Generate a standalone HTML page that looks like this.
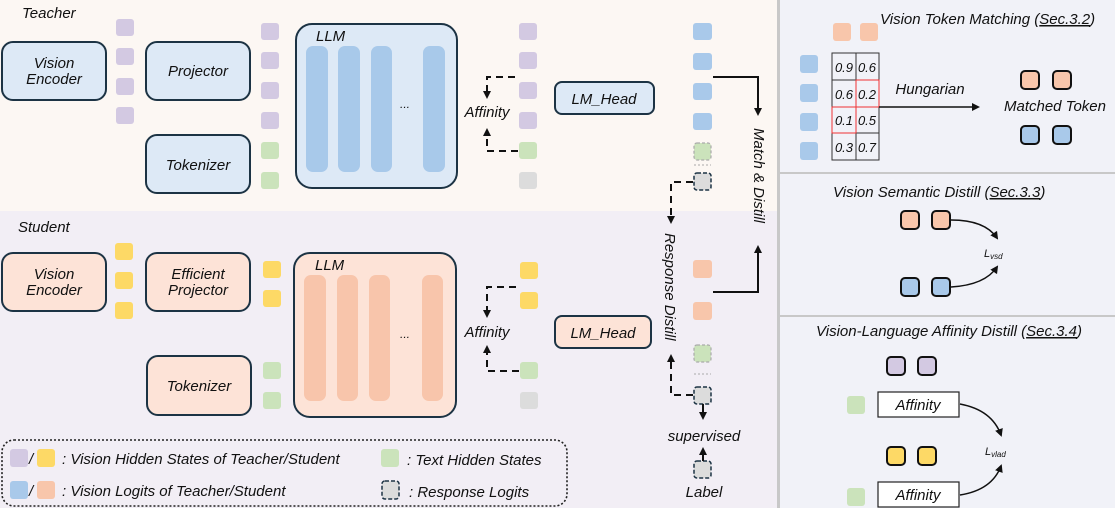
<!DOCTYPE html>
<html><head><meta charset="utf-8"><style>
html,body{margin:0;padding:0;background:#fff}
svg{display:block}
text{font-family:"Liberation Sans",sans-serif;font-style:italic;fill:#111}
</style></head><body>
<svg width="1115" height="508" viewBox="0 0 1115 508" xmlns="http://www.w3.org/2000/svg">
<defs>
<marker id="ah" markerWidth="8" markerHeight="8" refX="6" refY="4" orient="auto" markerUnits="userSpaceOnUse"><path d="M0,0 L8,4 L0,8 Z" fill="#111"/></marker>
</defs>
<!-- backgrounds -->
<rect x="0" y="0" width="777" height="211" fill="#fcf7f3"/>
<rect x="0" y="211" width="777" height="297" fill="#f2eef5"/>
<rect x="780" y="0" width="335" height="508" fill="#f1f2f8"/>
<rect x="777" y="0" width="3" height="508" fill="#c8c8c8"/>
<rect x="780" y="172" width="335" height="2" fill="#c8c8c8"/>
<rect x="780" y="315" width="335" height="2" fill="#c8c8c8"/>

<!-- TEACHER -->
<text x="22" y="18" font-size="15">Teacher</text>
<g stroke="#1c3344" stroke-width="2" fill="#dde9f6">
<rect x="2" y="42" width="104" height="58" rx="11"/>
<rect x="146" y="42" width="104" height="58" rx="11"/>
<rect x="146" y="135" width="104" height="58" rx="11"/>
<rect x="296" y="24" width="161" height="164" rx="16"/>
<rect x="555" y="82" width="99" height="32" rx="7"/>
</g>
<text x="54" y="68" font-size="15" text-anchor="middle">Vision</text>
<text x="54" y="84" font-size="15" text-anchor="middle">Encoder</text>
<text x="198" y="76" font-size="15" text-anchor="middle">Projector</text>
<text x="198" y="170" font-size="15" text-anchor="middle">Tokenizer</text>
<text x="316" y="41" font-size="15">LLM</text>
<text x="604" y="104" font-size="15" text-anchor="middle">LM_Head</text>
<g fill="#a8c9ea">
<rect x="306" y="46" width="22" height="126" rx="7"/>
<rect x="338" y="46" width="22" height="126" rx="7"/>
<rect x="371" y="46" width="21" height="126" rx="7"/>
<rect x="423" y="46" width="22" height="126" rx="7"/>
</g>
<text x="405" y="108" font-size="12" text-anchor="middle">...</text>
<g fill="#d3c9e2">
<rect x="116" y="19" width="18" height="17" rx="3"/><rect x="116" y="48" width="18" height="17" rx="3"/>
<rect x="116" y="78" width="18" height="17" rx="3"/><rect x="116" y="107" width="18" height="17" rx="3"/>
<rect x="261" y="23" width="18" height="17" rx="3"/><rect x="261" y="52" width="18" height="17" rx="3"/>
<rect x="261" y="82" width="18" height="17" rx="3"/><rect x="261" y="112" width="18" height="17" rx="3"/>
<rect x="519" y="23" width="18" height="17" rx="3"/><rect x="519" y="52" width="18" height="17" rx="3"/>
<rect x="519" y="82" width="18" height="17" rx="3"/><rect x="519" y="112" width="18" height="17" rx="3"/>
</g>
<g fill="#cbe3bb">
<rect x="261" y="142" width="18" height="17" rx="3"/><rect x="261" y="172" width="18" height="17" rx="3"/>
<rect x="519" y="142" width="18" height="17" rx="3"/>
</g>
<rect x="519" y="172" width="18" height="17" rx="3" fill="#dcdcdc"/>
<text x="487" y="117" font-size="15" text-anchor="middle">Affinity</text>
<g stroke="#111" stroke-width="2" fill="none" stroke-dasharray="7,5">
<path d="M515,77 H487 V97" marker-end="url(#ah)"/>
<path d="M518,151 H487 V130" marker-end="url(#ah)"/>
</g>
<!-- teacher logits -->
<g fill="#a9c9ea">
<rect x="693" y="23" width="19" height="17" rx="3"/><rect x="693" y="53" width="19" height="17" rx="3"/>
<rect x="693" y="83" width="19" height="17" rx="3"/><rect x="693" y="113" width="19" height="17" rx="3"/>
</g>
<rect x="694" y="143" width="17" height="17" rx="3" fill="#cbe3bb" stroke="#aaa" stroke-width="1.2" stroke-dasharray="3,2"/>
<line x1="694" y1="165" x2="711" y2="165" stroke="#aaa" stroke-width="1" stroke-dasharray="2,2"/>
<rect x="694" y="173" width="17" height="17" rx="3" fill="#dcdcdc" stroke="#1c3344" stroke-width="1.5" stroke-dasharray="4,2"/>
<path d="M713,77 H758 V114" stroke="#111" stroke-width="2" fill="none" marker-end="url(#ah)"/>
<text x="0" y="0" font-size="15" transform="translate(754,128) rotate(90)">Match &amp; Distill</text>
<path d="M693,182 H671 V222" stroke="#111" stroke-width="2" fill="none" stroke-dasharray="7,5" marker-end="url(#ah)"/>

<!-- STUDENT -->
<text x="18" y="232" font-size="15">Student</text>
<g stroke="#1c3344" stroke-width="2" fill="#fde3d7">
<rect x="2" y="253" width="104" height="58" rx="11"/>
<rect x="146" y="253" width="104" height="58" rx="11"/>
<rect x="147" y="356" width="104" height="59" rx="11"/>
<rect x="294" y="253" width="162" height="164" rx="16"/>
<rect x="555" y="316" width="96" height="32" rx="7"/>
</g>
<text x="54" y="279" font-size="15" text-anchor="middle">Vision</text>
<text x="54" y="295" font-size="15" text-anchor="middle">Encoder</text>
<text x="198" y="279" font-size="15" text-anchor="middle">Efficient</text>
<text x="198" y="295" font-size="15" text-anchor="middle">Projector</text>
<text x="199" y="391" font-size="15" text-anchor="middle">Tokenizer</text>
<text x="315" y="270" font-size="15">LLM</text>
<text x="603" y="338" font-size="15" text-anchor="middle">LM_Head</text>
<g fill="#f8c5ab">
<rect x="304" y="275" width="22" height="126" rx="7"/>
<rect x="337" y="275" width="21" height="126" rx="7"/>
<rect x="369" y="275" width="21" height="126" rx="7"/>
<rect x="422" y="275" width="21" height="126" rx="7"/>
</g>
<text x="405" y="338" font-size="12" text-anchor="middle">...</text>
<g fill="#fdd966">
<rect x="115" y="243" width="18" height="17" rx="3"/><rect x="115" y="272" width="18" height="17" rx="3"/>
<rect x="115" y="302" width="18" height="17" rx="3"/>
<rect x="263" y="261" width="18" height="17" rx="3"/><rect x="263" y="290" width="18" height="17" rx="3"/>
<rect x="520" y="262" width="18" height="17" rx="3"/><rect x="520" y="292" width="18" height="17" rx="3"/>
</g>
<g fill="#cbe3bb">
<rect x="263" y="362" width="18" height="17" rx="3"/><rect x="263" y="392" width="18" height="17" rx="3"/>
<rect x="520" y="362" width="18" height="17" rx="3"/>
</g>
<rect x="520" y="392" width="18" height="17" rx="3" fill="#dcdcdc"/>
<text x="487" y="337" font-size="15" text-anchor="middle">Affinity</text>
<g stroke="#111" stroke-width="2" fill="none" stroke-dasharray="7,5">
<path d="M516,287 H487 V316" marker-end="url(#ah)"/>
<path d="M519,371 H487 V347" marker-end="url(#ah)"/>
</g>
<g fill="#f8c6ab">
<rect x="693" y="260" width="19" height="18" rx="3"/><rect x="693" y="302" width="19" height="18" rx="3"/>
</g>
<rect x="694" y="345" width="17" height="17" rx="3" fill="#cbe3bb" stroke="#aaa" stroke-width="1.2" stroke-dasharray="3,2"/>
<line x1="694" y1="374" x2="711" y2="374" stroke="#aaa" stroke-width="1" stroke-dasharray="2,2"/>
<rect x="694" y="387" width="17" height="17" rx="3" fill="#dcdcdc" stroke="#1c3344" stroke-width="1.5" stroke-dasharray="4,2"/>
<path d="M713,292 H758 V247" stroke="#111" stroke-width="2" fill="none" marker-end="url(#ah)"/>
<path d="M693,395 H671 V356" stroke="#111" stroke-width="2" fill="none" stroke-dasharray="7,5" marker-end="url(#ah)"/>
<text x="0" y="0" font-size="15" transform="translate(665,233) rotate(90)">Response Distill</text>
<path d="M703,404 V418" stroke="#111" stroke-width="2" fill="none" marker-end="url(#ah)"/>
<text x="704" y="441" font-size="15" text-anchor="middle">supervised</text>
<rect x="694" y="461" width="17" height="17" rx="3" fill="#dcdcdc" stroke="#1c3344" stroke-width="1.5" stroke-dasharray="4,2"/>
<path d="M703,461 V449" stroke="#111" stroke-width="2" fill="none" marker-end="url(#ah)"/>
<text x="704" y="497" font-size="15" text-anchor="middle">Label</text>

<!-- legend -->
<rect x="2" y="440" width="565" height="66" rx="12" fill="none" stroke="#222" stroke-width="1.6" stroke-dasharray="2,2"/>
<rect x="10" y="449" width="18" height="18" rx="3" fill="#d3c9e2"/>
<text x="29" y="464" font-size="15">/</text>
<rect x="37" y="449" width="18" height="18" rx="3" fill="#fdd966"/>
<text x="62" y="464" font-size="15">: Vision Hidden States of Teacher/Student</text>
<rect x="381" y="449" width="18" height="18" rx="3" fill="#cbe3bb"/>
<text x="407" y="465" font-size="15">: Text Hidden States</text>
<rect x="10" y="481" width="18" height="18" rx="3" fill="#a9c9ea"/>
<text x="29" y="496" font-size="15">/</text>
<rect x="37" y="481" width="18" height="18" rx="3" fill="#f8c6ab"/>
<text x="62" y="496" font-size="15">: Vision Logits of Teacher/Student</text>
<rect x="382" y="481" width="17" height="18" rx="3" fill="#dcdcdc" stroke="#1c3344" stroke-width="1.5" stroke-dasharray="4,2"/>
<text x="409" y="497" font-size="15">: Response Logits</text>

<!-- RIGHT: token matching -->
<text x="880" y="24" font-size="15">Vision Token Matching (<tspan text-decoration="underline">Sec.3.2</tspan>)</text>
<rect x="833" y="23" width="18" height="18" rx="3" fill="#f8c6ab"/>
<rect x="860" y="23" width="18" height="18" rx="3" fill="#f8c6ab"/>
<g fill="#a9c9ea">
<rect x="800" y="55" width="18" height="18" rx="3"/><rect x="800" y="84" width="18" height="18" rx="3"/>
<rect x="800" y="113" width="18" height="18" rx="3"/><rect x="800" y="142" width="18" height="18" rx="3"/>
</g>
<g stroke="#333" stroke-width="1" fill="none">
<rect x="832" y="53" width="47" height="107"/>
<line x1="856" y1="53" x2="856" y2="160"/>
<line x1="832" y1="80" x2="879" y2="80"/>
<line x1="832" y1="107" x2="879" y2="107"/>
<line x1="832" y1="133" x2="879" y2="133"/>
</g>
<rect x="856" y="80" width="23" height="27" fill="none" stroke="#e33" stroke-width="1"/>
<rect x="832" y="107" width="24" height="26" fill="none" stroke="#e33" stroke-width="1"/>
<g font-size="13" text-anchor="middle">
<text x="844" y="72">0.9</text><text x="867" y="72">0.6</text>
<text x="844" y="99">0.6</text><text x="867" y="99">0.2</text>
<text x="844" y="125">0.1</text><text x="867" y="125">0.5</text>
<text x="844" y="152">0.3</text><text x="867" y="152">0.7</text>
</g>
<text x="930" y="94" font-size="15" text-anchor="middle">Hungarian</text>
<path d="M879,107 H978" stroke="#111" stroke-width="1.5" fill="none" marker-end="url(#ah)"/>
<g stroke="#111" stroke-width="2">
<rect x="1021" y="71" width="18" height="18" rx="4" fill="#f8c6ab"/>
<rect x="1053" y="71" width="18" height="18" rx="4" fill="#f8c6ab"/>
<rect x="1021" y="126" width="18" height="18" rx="4" fill="#a9c9ea"/>
<rect x="1053" y="126" width="18" height="18" rx="4" fill="#a9c9ea"/>
</g>
<text x="1055" y="111" font-size="15" text-anchor="middle">Matched Token</text>

<!-- semantic distill -->
<text x="833" y="197" font-size="15">Vision Semantic Distill (<tspan text-decoration="underline">Sec.3.3</tspan>)</text>
<g stroke="#111" stroke-width="2">
<rect x="901" y="211" width="18" height="18" rx="4" fill="#f8c6ab"/>
<rect x="932" y="211" width="18" height="18" rx="4" fill="#f8c6ab"/>
<rect x="901" y="278" width="18" height="18" rx="4" fill="#a9c9ea"/>
<rect x="932" y="278" width="18" height="18" rx="4" fill="#a9c9ea"/>
</g>
<path d="M951,220 Q985,220 997,238" stroke="#111" stroke-width="1.5" fill="none" marker-end="url(#ah)"/>
<path d="M951,287 Q985,285 997,267" stroke="#111" stroke-width="1.5" fill="none" marker-end="url(#ah)"/>
<text x="984" y="257" font-size="11" font-family="Liberation Serif">L<tspan font-size="8" dy="2">vsd</tspan></text>

<!-- affinity distill -->
<text x="816" y="336" font-size="15">Vision-Language Affinity Distill (<tspan text-decoration="underline">Sec.3.4</tspan>)</text>
<g stroke="#111" stroke-width="2">
<rect x="887" y="357" width="18" height="18" rx="4" fill="#d3c9e2"/>
<rect x="918" y="357" width="18" height="18" rx="4" fill="#d3c9e2"/>
<rect x="887" y="447" width="18" height="18" rx="4" fill="#fdd966"/>
<rect x="918" y="447" width="18" height="18" rx="4" fill="#fdd966"/>
</g>
<rect x="847" y="396" width="18" height="18" rx="3" fill="#cbe3bb"/>
<rect x="847" y="488" width="18" height="18" rx="3" fill="#cbe3bb"/>
<rect x="878" y="392" width="81" height="25" fill="#fff" stroke="#222" stroke-width="1.2"/>
<rect x="878" y="482" width="81" height="25" fill="#fff" stroke="#222" stroke-width="1.2"/>
<text x="918" y="410" font-size="15" text-anchor="middle">Affinity</text>
<text x="918" y="500" font-size="15" text-anchor="middle">Affinity</text>
<path d="M960,404 Q992,410 1001,435" stroke="#111" stroke-width="1.5" fill="none" marker-end="url(#ah)"/>
<path d="M960,495 Q992,490 1001,466" stroke="#111" stroke-width="1.5" fill="none" marker-end="url(#ah)"/>
<text x="985" y="455" font-size="11" font-family="Liberation Serif">L<tspan font-size="8" dy="2">vlad</tspan></text>
</svg>
</body></html>
